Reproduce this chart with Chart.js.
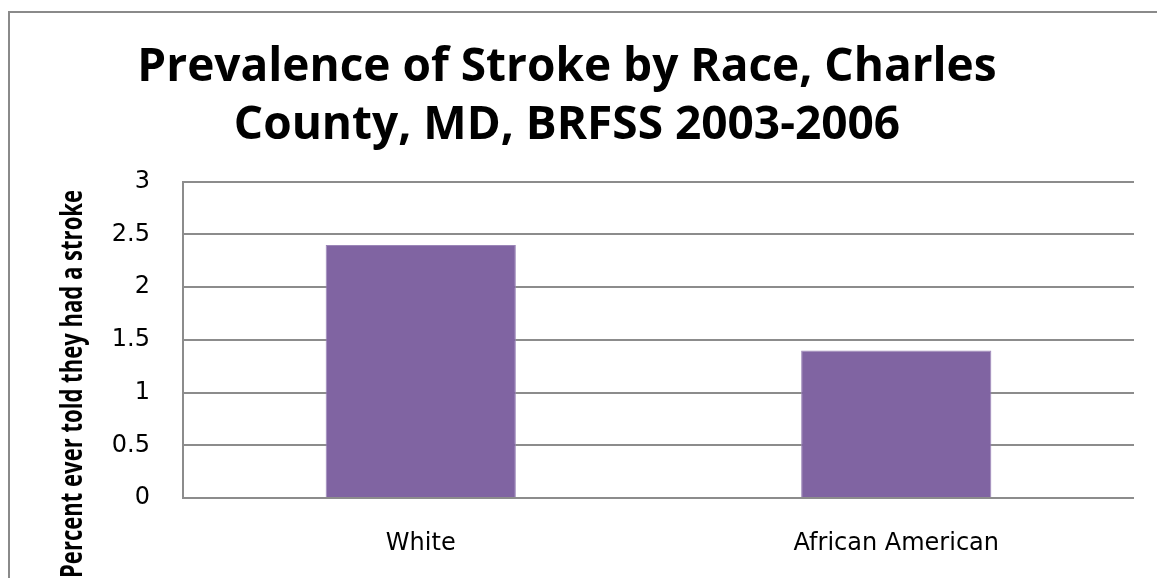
<!DOCTYPE html>
<html>
<head>
<meta charset="utf-8">
<script src="https://cdn.jsdelivr.net/npm/chart.js@4.4.0/dist/chart.umd.min.js"></script>
<style>
  html, body { margin: 0; padding: 0; background: #fff; overflow: hidden; }
  #frame {
    position: absolute; left: 8px; top: 11px;
    width: 1200px; height: 700px;
    border: 2px solid #8a8a8a; box-sizing: border-box;
  }
  #wrap { position: absolute; left: 0; top: 0; width: 1157px; height: 578px; }
</style>
</head>
<body>
<div id="frame"></div>
<div id="wrap"><canvas id="strokeChart"></canvas></div>
<script>
// chart values
const categories = ["White", "African American"];
const prevalence = [2.4, 1.4];
const yTicks = [0, 0.5, 1, 1.5, 2, 2.5, 3];
const titleLines = ["Prevalence of Stroke by Race, Charles", "County, MD, BRFSS 2003-2006"];
const yAxisTitle = "Percent ever told they had a stroke";

// rotated, squeezed axis title like the original
const yTitlePlugin = {
    id: "yTitle",
    afterDraw(chart) {
        const ctx = chart.ctx;
        ctx.save();
        ctx.font = "bold 30px 'Open Sans', sans-serif";
        ctx.fillStyle = "#000";
        ctx.textBaseline = "alphabetic";
        ctx.textAlign = "left";
        const w = ctx.measureText(yAxisTitle).width;
        const target = 388;
        ctx.translate(82, 578);
        ctx.rotate(-Math.PI / 2);
        ctx.scale(target / w, 1);
        ctx.fillText(yAxisTitle, 0, 0);
        ctx.restore();
    }
};

const ctx = document.getElementById("strokeChart");
new Chart(ctx, {
    type: "bar",
    data: {
        labels: categories,
        datasets: [{
            data: prevalence,
            backgroundColor: "#8064A2",
            borderColor: "#9b86b8",
            borderWidth: 1,
            barPercentage: 0.4,
            categoryPercentage: 1.0
        }]
    },
    options: {
        responsive: true,
        maintainAspectRatio: false,
        animation: false,
        layout: { padding: { left: 0, right: 23, top: 0, bottom: 0 } },
        plugins: {
            legend: { display: false },
            tooltip: { enabled: false },
            title: {
                display: true,
                text: titleLines,
                color: "#000",
                font: { family: "'Open Sans', sans-serif", size: 46, weight: "bold", lineHeight: 1.28 },
                padding: { top: 38, bottom: 26 }
            }
        },
        scales: {
            x: {
                grid: { display: false, drawTicks: false },
                border: { display: false },
                ticks: {
                    color: "#000",
                    padding: 31,
                    font: { family: "'DejaVu Sans', sans-serif", size: 24 }
                },
                afterFit(scale) { scale.height = 80; }
            },
            y: {
                min: 0,
                max: 3,
                afterBuildTicks(scale) { scale.ticks = yTicks.map(v => ({ value: v })); },
                grid: { color: "#8c8c8c", lineWidth: 2, drawTicks: false },
                border: { display: true, color: "#8c8c8c", width: 2 },
                ticks: {
                    color: "#000",
                    padding: 33,
                    font: { family: "'DejaVu Sans', sans-serif", size: 24 },
                    callback: v => String(v)
                },
                afterFit(scale) { scale.width = 183; }
            }
        }
    },
    plugins: [yTitlePlugin]
});
</script>
</body>
</html>
